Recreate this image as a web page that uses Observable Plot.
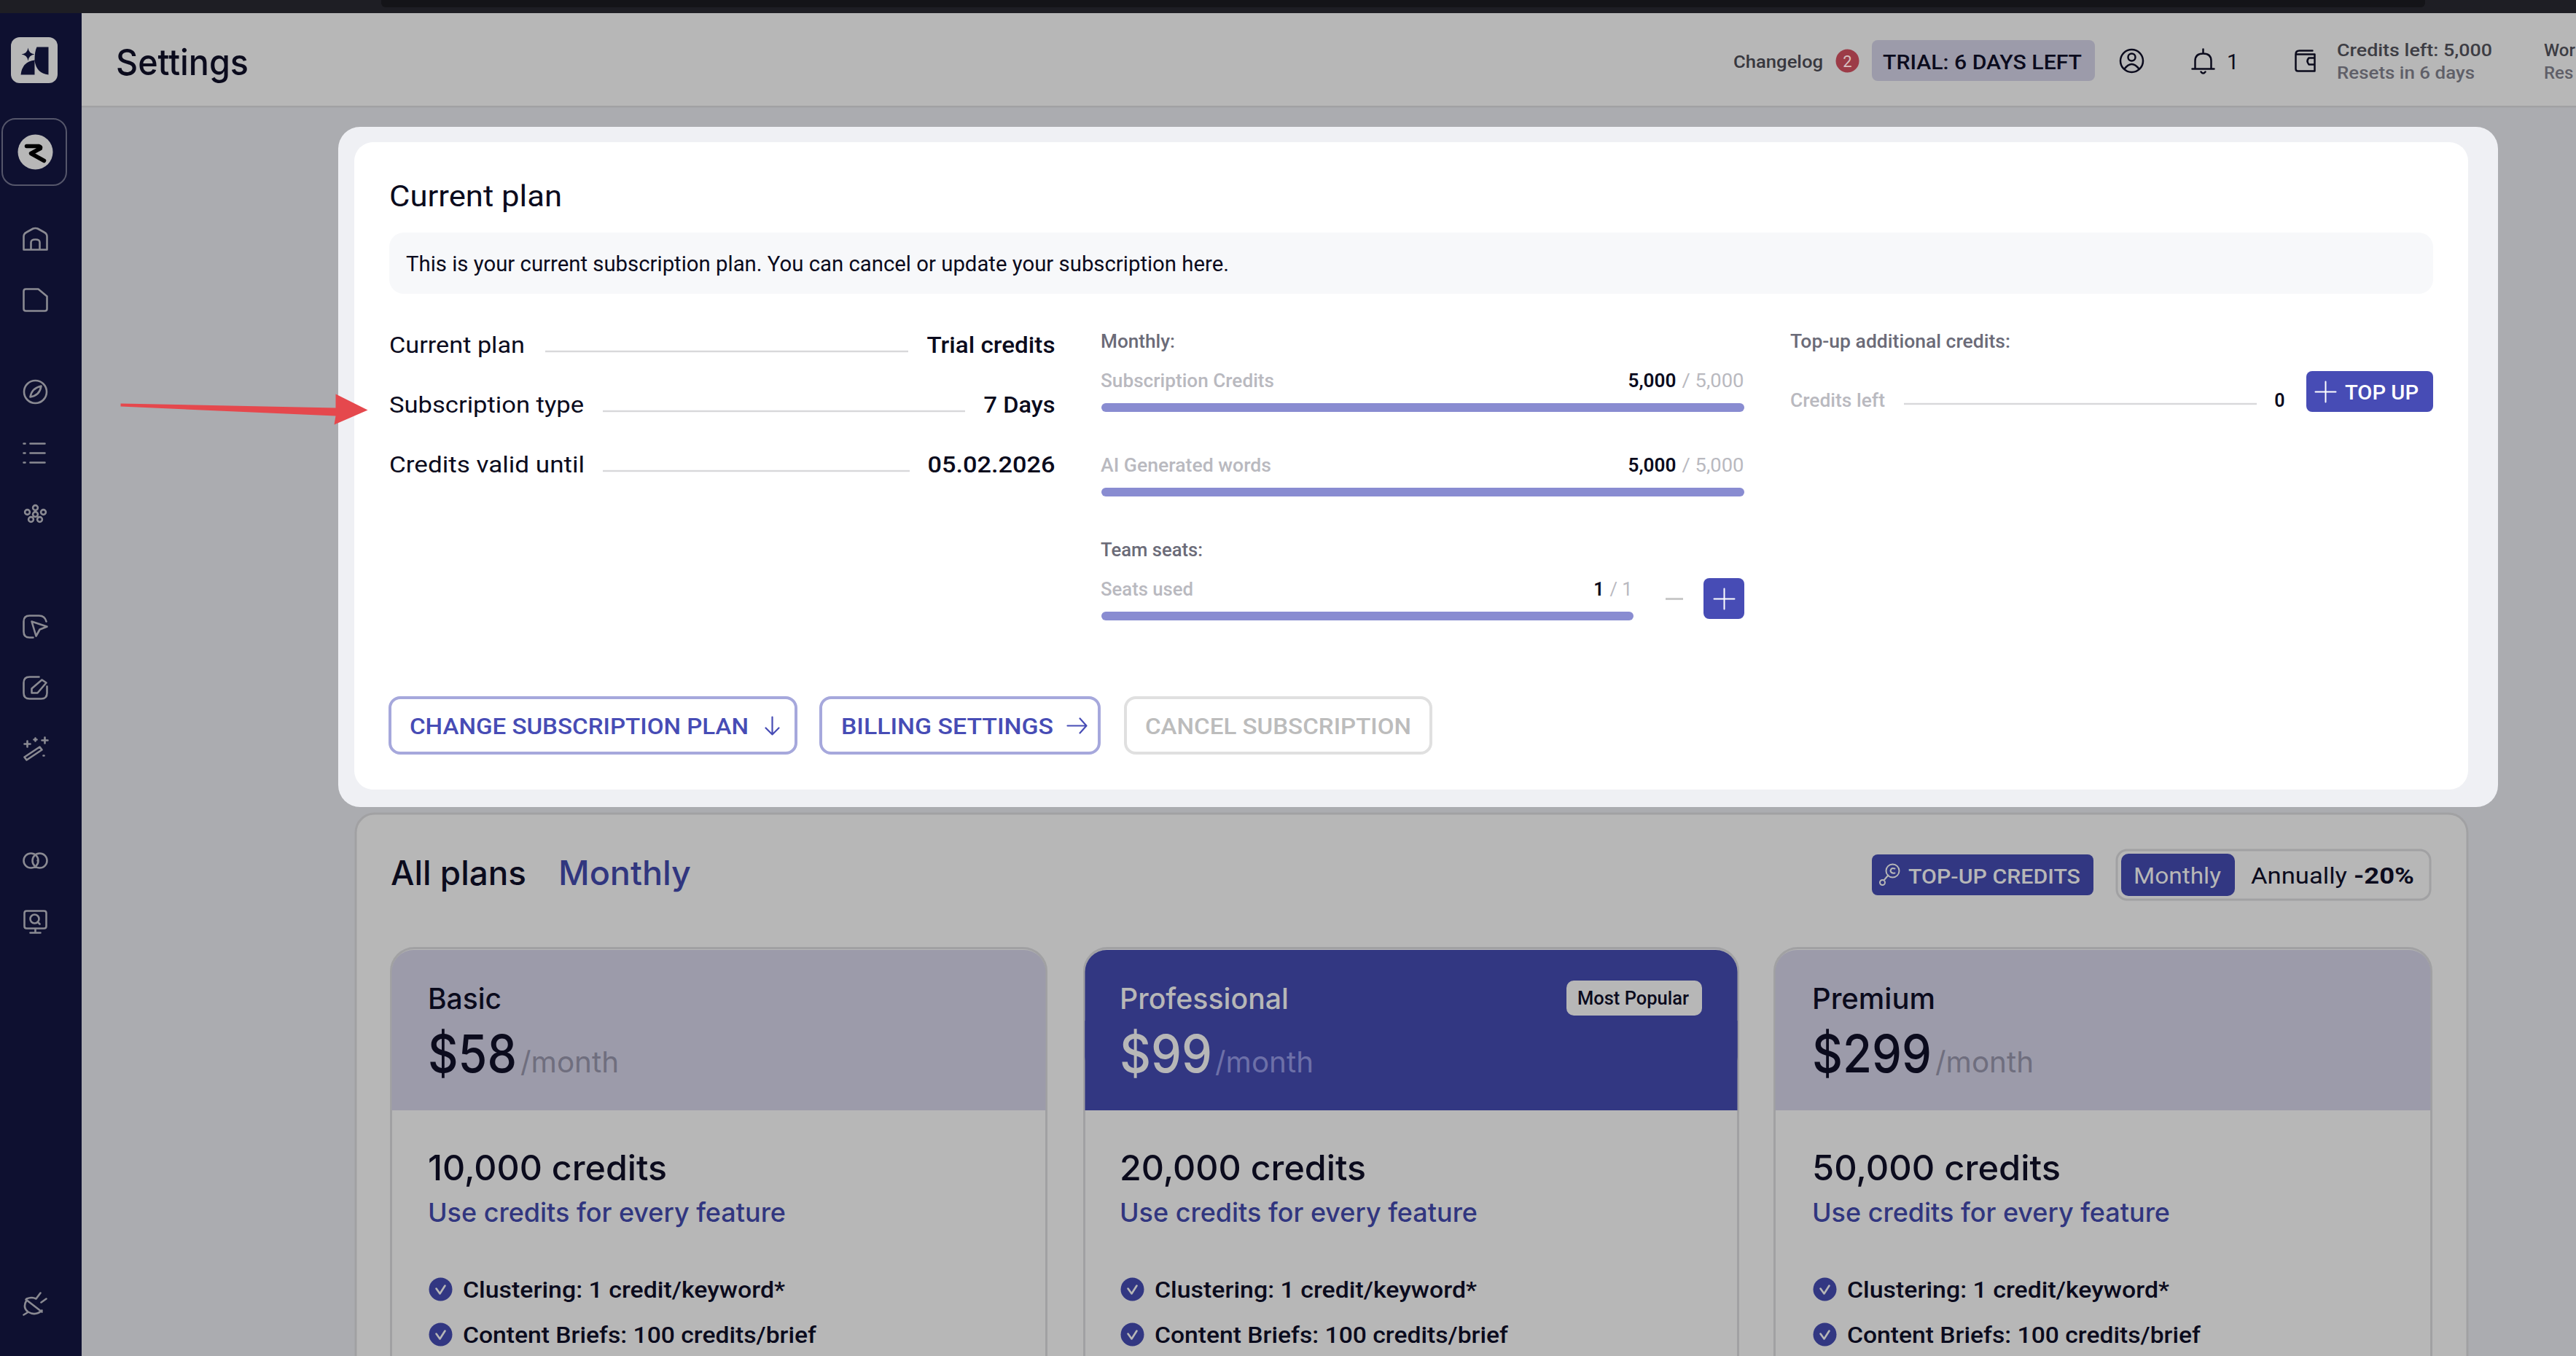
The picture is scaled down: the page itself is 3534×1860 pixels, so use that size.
<!DOCTYPE html>
<html><head><meta charset="utf-8">
<style>html,body{margin:0;padding:0;background:#abacb0;overflow:hidden}</style>
<script src="https://cdn.jsdelivr.net/npm/d3@7"></script>
<script src="https://cdn.jsdelivr.net/npm/@observablehq/plot@0.6"></script>
</head><body><div id="app"></div>
<script>
// ---- content ----
const pageTitle = "Settings";
const changelogLabel = "Changelog";
const changelogCount = 2;
const trialLabel = "TRIAL: 6 DAYS LEFT";
const notificationCount = 1;
const creditsHeader = ["Credits left: 5,000", "Resets in 6 days"];
const clippedHeader = ["Wor", "Res"];
const panelTitle = "Current plan";
const panelNote = "This is your current subscription plan. You can cancel or update your subscription here.";
const rowLabels = ["Current plan", "Subscription type", "Credits valid until"];
const rowValues = ["Trial credits", "7 Days", "05.02.2026"];
const sectionLabels = ["Monthly:", "Team seats:", "Top-up additional credits:"];
const usageLabels = ["Subscription Credits", "AI Generated words", "Seats used"];
const usageUsed = [5000, 5000, 1];
const usageTotal = [5000, 5000, 1];
const creditsLeftLabel = "Credits left";
const creditsLeftValue = 0;
const topUpLabel = "TOP UP";
const actionLabels = ["CHANGE SUBSCRIPTION PLAN", "BILLING SETTINGS", "CANCEL SUBSCRIPTION"];
const plansHeading = ["All plans", "Monthly"];
const topUpCreditsLabel = "TOP-UP CREDITS";
const billingLabels = ["Monthly", "Annually", "-20%"];
const planNames = ["Basic", "Professional", "Premium"];
const planPrices = [58, 99, 299];
const planCredits = [10000, 20000, 50000];
const planUnit = "/month";
const planNote = "Use credits for every feature";
const popularLabel = "Most Popular";
const featureLines = ["Clustering: 1 credit/keyword*", "Content Briefs: 100 credits/brief"];

// ---- palette and fonts ----
const INK = "#0b0b1d", NAVY = "#323782", INDIGO = "#474cb5", PAGE = "#b7b7b7", LINE = "#d8d8da", EDGE = "#a1a1a3";
const BODY = "Roboto, sans-serif", HEAD = "Inter, sans-serif";

// ---- mark helpers: every position goes through Plot's x and y scales ----
const box = (x1, y1, x2, y2, o = {}) => Plot.rect([{x1, y1, x2, y2}], {x1: "x1", y1: "y1", x2: "x2", y2: "y2",
  fill: o.fill ?? "none", stroke: o.stroke ?? "none", strokeWidth: o.sw ?? 1, rx: o.r ?? 0, ry: o.r ?? 0});
const fit = (w) => w == null ? undefined : (i, s, v, d, c, next) => {
  const g = next(i, s, v, d, c);
  d3.select(g).selectAll("text").attr("textLength", w).attr("lengthAdjust", "spacingAndGlyphs");
  return g;
};
const label = (s, x, y, o = {}) => Plot.text([{s, x: (o.anchor ?? "start") === "start" ? x - 1.5 : x, y}], {x: "x", y: "y", text: "s", lineAnchor: "bottom",
  textAnchor: o.anchor ?? "start", fontFamily: o.font ?? BODY, fontSize: o.size ?? 25, fontWeight: o.weight ?? 400,
  fill: o.fill ?? INK, render: fit(o.w)});
const rule = (x1, x2, y) => box(x1, y - 1.2, x2, y + 1.2, {fill: LINE});
const icon = (draw, x, y, o = {}) => Plot.dot([{x, y}], {x: "x", y: "y", r: 1, symbol: {draw},
  fill: o.fill ?? "none", stroke: o.stroke ?? "none", strokeWidth: o.sw ?? 2.5, strokeLinecap: "round", strokeLinejoin: "round"});
const ring = (c, x, y, r) => { c.moveTo(x + r, y); c.arc(x, y, r, 0, 2 * Math.PI); };

// ---- icon shapes (local drawing around the icon's centre) ----
const glyphs = {
  home(c){c.moveTo(-16,14);c.lineTo(-16,-4);c.quadraticCurveTo(-16,-8,-12,-10);c.lineTo(-3,-15);c.quadraticCurveTo(0,-16,3,-15);c.lineTo(12,-10);c.quadraticCurveTo(16,-8,16,-4);c.lineTo(16,14);c.closePath();c.moveTo(-6,14);c.lineTo(-6,4);c.quadraticCurveTo(-6,0,0,0);c.quadraticCurveTo(6,0,6,4);c.lineTo(6,14);},
  doc(c){c.moveTo(-13,-15);c.lineTo(4,-15);c.lineTo(16,-5);c.lineTo(16,12);c.quadraticCurveTo(16,15,13,15);c.lineTo(-13,15);c.quadraticCurveTo(-16,15,-16,12);c.lineTo(-16,-12);c.quadraticCurveTo(-16,-15,-13,-15);c.closePath();},
  compass(c){ring(c,0,0,15.5);c.moveTo(-7,7);c.quadraticCurveTo(-5,-5,8,-8);c.quadraticCurveTo(6,5,-7,7);c.closePath();},
  list(c){for(const y of [-13,0,13]){c.moveTo(-16,y);c.lineTo(-14,y);c.moveTo(-7,y);c.lineTo(13,y);}},
  cluster(c){for(const [x,y] of [[0,-9],[-11,-3],[11,-3],[0,0],[-6,7],[6,7]])ring(c,x,y,3.4);},
  cursor(c){c.moveTo(15,-7);c.quadraticCurveTo(13,-15,5,-15);c.lineTo(-8,-15);c.quadraticCurveTo(-16,-15,-16,-7);c.lineTo(-16,7);c.quadraticCurveTo(-16,15,-8,15);c.lineTo(-3,15);c.moveTo(-5,-7);c.lineTo(16,0);c.lineTo(6,4);c.lineTo(1,13);c.closePath();},
  edit(c){c.moveTo(5,-15);c.lineTo(-8,-15);c.quadraticCurveTo(-16,-15,-16,-7);c.lineTo(-16,7);c.quadraticCurveTo(-16,15,-8,15);c.lineTo(8,15);c.quadraticCurveTo(16,15,16,7);c.lineTo(16,-2);c.moveTo(-5,7);c.lineTo(-5,1);c.lineTo(9,-11);c.lineTo(15,-7);c.lineTo(3,7);c.closePath();},
  wand(c){c.moveTo(-15,11);c.lineTo(6,-3);c.lineTo(9,1);c.lineTo(-12,15);c.closePath();for(const [x,y,r] of [[-11,-7,4],[13,-12,4],[0,-13,2]]){c.moveTo(x-r,y);c.lineTo(x+r,y);c.moveTo(x,y-r);c.lineTo(x,y+r);}c.moveTo(11,9);c.lineTo(12,9);},
  links(c){ring(c,-6,0,10);ring(c,6,0,10);c.moveTo(3,0);c.lineTo(3.5,0);},
  monitor(c){c.moveTo(-12,-15);c.lineTo(12,-15);c.quadraticCurveTo(15,-15,15,-12);c.lineTo(15,6);c.quadraticCurveTo(15,9,12,9);c.lineTo(-12,9);c.quadraticCurveTo(-15,9,-15,6);c.lineTo(-15,-12);c.quadraticCurveTo(-15,-15,-12,-15);c.closePath();ring(c,-1,-4,6);c.moveTo(3,0);c.lineTo(6,3);c.moveTo(0,9);c.lineTo(0,14);c.moveTo(-7,15);c.lineTo(7,15);},
  plug(c){c.moveTo(-12,-5);c.quadraticCurveTo(-18,5,-10,11);c.quadraticCurveTo(0,17,9,9);c.moveTo(-12,-7);c.quadraticCurveTo(-5,-10,1,-7);c.moveTo(-13,-6);c.lineTo(9,11);c.moveTo(1,-7);c.lineTo(7,-15);c.moveTo(8,-2);c.lineTo(15,-7);c.moveTo(-11,12);c.lineTo(-16,15);},
  star(c){c.moveTo(0,-9);c.quadraticCurveTo(1,-1,9,0);c.quadraticCurveTo(1,1,0,9);c.quadraticCurveTo(-1,1,-9,0);c.quadraticCurveTo(-1,-1,0,-9);c.closePath();},
  petals(c){c.moveTo(3,-18);c.lineTo(19,-18);c.lineTo(19,0);c.lineTo(0,0);c.quadraticCurveTo(0,-12,3,-18);c.closePath();c.moveTo(0,0);c.lineTo(0,20);c.lineTo(-19,20);c.quadraticCurveTo(-17,2,0,0);c.closePath();c.moveTo(0,0);c.lineTo(19,0);c.lineTo(19,20);c.quadraticCurveTo(2,18,0,0);c.closePath();},
  brandR(c){c.moveTo(-12,-8);c.lineTo(5,-8);c.quadraticCurveTo(8,-7,7,-5);c.lineTo(-6,2);c.lineTo(12,12);},
  profile(c){ring(c,0,0,15.5);ring(c,0,-5,5);c.moveTo(-10,11);c.quadraticCurveTo(0,-2,10,11);},
  bell(c){c.moveTo(-11,8);c.lineTo(-11,-2);c.quadraticCurveTo(-11,-12,0,-12);c.quadraticCurveTo(11,-12,11,-2);c.lineTo(11,8);c.moveTo(-15,9);c.lineTo(15,9);c.moveTo(0,-18);c.lineTo(0,-12);c.moveTo(-3,13);c.quadraticCurveTo(0,17,3,13);},
  wallet(c){c.moveTo(-13,-9);c.lineTo(-13,11);c.quadraticCurveTo(-13,14,-10,14);c.lineTo(13,14);c.lineTo(13,-9);c.lineTo(-13,-9);c.moveTo(-13,-9);c.quadraticCurveTo(-13,-14,-8,-14);c.lineTo(10,-14);c.moveTo(13,-4);c.lineTo(5,-4);c.quadraticCurveTo(1,0,5,5);c.lineTo(13,5);},
  check(c){c.moveTo(-6,-1);c.lineTo(-1,6);c.lineTo(6,-5);},
  plus(c){c.moveTo(-14,0);c.lineTo(14,0);c.moveTo(0,-14);c.lineTo(0,14);},
  down(c){c.moveTo(0,-12);c.lineTo(0,12);c.moveTo(-9,3);c.lineTo(0,12);c.lineTo(9,3);},
  right(c){c.moveTo(-13,0);c.lineTo(13,0);c.moveTo(4,-10);c.lineTo(13,0);c.lineTo(4,10);},
  key(c){ring(c,5,-6,9);c.moveTo(8,-9);c.quadraticCurveTo(3,-11,2,-6);c.quadraticCurveTo(3,-2,8,-3);c.moveTo(-1,0);c.lineTo(-7,7);ring(c,-9,10,3.5);},
  redArrow(c){c.moveTo(-339,-9);c.lineTo(-44,-3);c.lineTo(-44,-22);c.lineTo(0,0);c.lineTo(-46,20);c.lineTo(-44,8);c.lineTo(-339,-5);c.closePath();}
};

// ---- marks ----
const marks = [];
const add = (...m) => marks.push(...m);

// page frame
add(box(0, 0, 3534, 18, {fill: "#1e1e24"}), box(523, -8, 3327, 10, {fill: "#141418", r: 6}));
add(box(112, 18, 3534, 145, {fill: PAGE}), box(112, 145, 3534, 147.5, {fill: EDGE}));
add(box(0, 18, 112, 1860, {fill: "#0e1030"}));

// sidebar
add(box(15, 51, 79, 114, {fill: PAGE, r: 12}), icon(glyphs.star, 38, 74, {fill: "#0e1030"}), icon(glyphs.petals, 47, 82, {fill: "#0e1030"}));
add(box(3, 163, 91, 254, {stroke: "#55566a", sw: 2, r: 18}), icon((c) => ring(c, 0, 0, 24), 48, 208, {fill: PAGE}), icon(glyphs.brandR, 48, 208, {stroke: "#000", sw: 5.5}));
for (const [name, y] of [["home", 328], ["doc", 411], ["compass", 537], ["list", 621], ["cluster", 705], ["cursor", 859], ["edit", 943], ["wand", 1027], ["links", 1180], ["monitor", 1264], ["plug", 1788], ["links", 1871]])
  add(icon(glyphs[name], 48, y, {stroke: "#8a8a92", sw: 2.6}));

// header
add(label(pageTitle, 160, 102, {font: HEAD, size: 50, weight: 500, w: 182}));
add(label(changelogLabel, 2379, 92, {size: 24, weight: 500, fill: "#38383f", w: 123}));
add(icon((c) => ring(c, 0, 0, 16), 2534, 83, {fill: "#9c3b47"}), label(String(changelogCount), 2534, 91, {size: 22, anchor: "middle", fill: "#d8c0c0"}));
add(box(2568, 55, 2874, 111, {fill: "#9c9baa", r: 8}), label(trialLabel, 2584, 94, {size: 28, weight: 500, w: 273}));
add(icon(glyphs.profile, 2924, 83, {stroke: INK}), icon(glyphs.bell, 3022, 85, {stroke: INK}), label(String(notificationCount), 3056, 94, {size: 29, fill: INK}));
add(icon(glyphs.wallet, 3162, 83, {stroke: INK}));
add(label(creditsHeader[0], 3207, 76, {size: 24, weight: 500, fill: "#3d3d44", w: 213}), label(creditsHeader[1], 3207, 107, {size: 24, weight: 500, fill: "#5f5f68", w: 189}));
add(label(clippedHeader[0], 3491, 76, {size: 24, weight: 500, fill: "#3d3d44"}), label(clippedHeader[1], 3491, 107, {size: 24, weight: 500, fill: "#5f5f68"}));

// lower panel sits behind the current-plan panel
add(box(488, 1116, 3385, 1960, {fill: PAGE, stroke: EDGE, sw: 3, r: 26}));

// current-plan panel
add(box(464, 174, 3427, 1107, {fill: "#eff0f4", r: 30}), box(486, 195, 3386, 1083, {fill: "#fff", r: 26}));
add(label(panelTitle, 535, 282, {size: 40, weight: 400, w: 237}));
add(box(534, 319, 3338, 403, {fill: "#f7f8fa", r: 20}), label(panelNote, 558, 371, {size: 30, w: 1129}));

const rowY = [483, 565, 647], rowW = [186, 267, 268], rowRule = [[748, 1246], [827, 1324], [827, 1248]], rowValW = [176, 98, 175];
rowLabels.forEach((s, i) => add(
  label(s, 535, rowY[i], {size: 32, w: rowW[i]}),
  rule(rowRule[i][0], rowRule[i][1], rowY[i] - 1),
  label(rowValues[i], 1447, rowY[i], {size: 32, weight: 500, anchor: "end", w: rowValW[i]})));

// usage meters: filled length follows used / total
const fmt = d3.format(",");
const MUTED = "#b9b9bf", SECTION = "#6b6b78";
add(label(sectionLabels[0], 1511, 476, {size: 25, weight: 500, fill: SECTION, w: 102}));
add(label(sectionLabels[1], 1511, 762, {size: 25, weight: 500, fill: SECTION, w: 140}));
add(label(sectionLabels[2], 2457, 476, {size: 25, weight: 500, fill: SECTION, w: 302}));
const meterY = [553, 669, 839], meterEnd = [2393, 2393, 2241], usageW = [238, 234, 127], labelY = [530, 646, 816];
usageLabels.forEach((s, i) => {
  const end = meterEnd[i], usedS = fmt(usageUsed[i]);
  add(label(s, 1511, labelY[i], {size: 25, weight: 500, fill: MUTED, w: usageW[i]}));
  add(box(1511, meterY[i], 1511 + (end - 1511) * usageUsed[i] / usageTotal[i], meterY[i] + 12, {fill: "#898cd1", r: 6}));
  if (i < 2) add(label(usedS, 2299, labelY[i], {size: 25, weight: 600, anchor: "end", w: 66}), label("/ " + fmt(usageTotal[i]), 2392, labelY[i], {size: 25, anchor: "end", fill: MUTED, w: 85}));
  else add(label(usedS, 2200, labelY[i], {size: 25, weight: 600, anchor: "end"}), label("/ " + usageTotal[i], 2239, labelY[i], {size: 25, anchor: "end", fill: MUTED, w: 31}));
});
add(box(2285, 820, 2309, 823, {fill: "#c9c9c9"}), box(2337, 793, 2393, 849, {fill: INDIGO, r: 8}), icon(glyphs.plus, 2365, 821, {stroke: "#fff", sw: 2}));

// top-up block
add(label(creditsLeftLabel, 2457, 557, {size: 25, weight: 500, fill: MUTED, w: 130}), rule(2612, 3096, 554));
add(label(String(creditsLeftValue), 3134, 557, {size: 25, weight: 600, anchor: "end"}));
add(box(3164, 509, 3338, 565, {fill: INDIGO, r: 8}), icon(glyphs.plus, 3190, 537, {stroke: "#fff", sw: 2}), label(topUpLabel, 3218, 547, {size: 28, weight: 500, fill: "#fff", w: 101}));

// action buttons
const actionBox = [[533, 1094], [1124, 1510], [1542, 1965]], actionText = [[563, 465], [1155, 291], [1572, 365]];
const actionStroke = ["#a6a8dc", "#a6a8dc", "#e0e0e0"], actionFill = [INDIGO, INDIGO, "#bcbcbc"];
actionLabels.forEach((s, i) => add(
  box(actionBox[i][0] + 2, 957, actionBox[i][1] - 2, 1033, {fill: "#fff", stroke: actionStroke[i], sw: 4, r: 14}),
  label(s, actionText[i][0], 1006, {size: 32, weight: 500, fill: actionFill[i], w: actionText[i][1]})));
add(icon(glyphs.down, 1059, 995, {stroke: INDIGO, sw: 2.2}), icon(glyphs.right, 1477, 995, {stroke: INDIGO, sw: 2.2}));

// pointer arrow
add(icon(glyphs.redArrow, 504, 562, {fill: "#e5484d"}));

// plans heading and controls
add(label(plansHeading[0], 537, 1213, {font: HEAD, size: 46, weight: 500, w: 186}), label(plansHeading[1], 767, 1213, {font: HEAD, size: 46, weight: 500, fill: "#31367f", w: 182}));
add(box(2568, 1172, 2872, 1228, {fill: NAVY, r: 8}), icon(glyphs.key, 2591, 1200, {stroke: PAGE, sw: 2}), label(topUpCreditsLabel, 2619, 1211, {size: 28, weight: 500, fill: PAGE, w: 236}));
add(box(2904, 1166, 3334, 1234, {stroke: EDGE, sw: 3, r: 14}), box(2910, 1171, 3066, 1229, {fill: NAVY, r: 10}));
add(label(billingLabels[0], 2928, 1211, {size: 32, fill: PAGE, w: 120}), label(billingLabels[1], 3089, 1211, {size: 32, w: 132}), label(billingLabels[2], 3230, 1211, {size: 32, weight: 700, w: 83}));

// plan cards
const cardBox = [[535, 1437], [1486, 2386], [2433, 3337]], cardText = [588, 1537, 2487];
const nameW = [101, 232, 169], priceW = [122, 127, 164], unitX = [715, 1668, 2656], creditW = [328, 338, 341];
planNames.forEach((name, i) => {
  const [a, b] = cardBox[i], x = cardText[i], pro = i === 1;
  const head = pro ? NAVY : "#9c9baa", ink = pro ? PAGE : INK;
  add(box(a + 1.5, 1300.5, b - 1.5, 1960, {fill: PAGE, stroke: EDGE, sw: 3, r: 32}));
  add(box(a + 2.5, 1303, b - 2.5, 1480, {fill: head, r: 30}), box(a + 2.5, 1400, b - 2.5, 1523, {fill: head}));
  add(label(name, x, 1383, {font: HEAD, size: 39, weight: 500, fill: ink, w: nameW[i]}));
  add(label("$" + planPrices[i], x, 1470, {font: HEAD, size: 72, weight: 500, fill: ink, w: priceW[i]}));
  add(label(planUnit, unitX[i], 1470, {font: HEAD, size: 40, fill: pro ? "#6d70a8" : "#6f6e7e", w: 135}));
  add(label(fmt(planCredits[i]) + " credits", x, 1618, {font: HEAD, size: 48, weight: 500, w: creditW[i]}));
  add(label(planNote, x, 1675, {font: HEAD, size: 36, weight: 500, fill: "#31367f", w: 491}));
  featureLines.forEach((line, k) => add(
    icon((c) => ring(c, 0, 0, 16), x + 16, [1768, 1830][k], {fill: NAVY}),
    icon(glyphs.check, x + 16, [1768, 1830][k], {stroke: PAGE, sw: 2.6}),
    label(line, x + 48, [1779, 1841][k], {size: 32, weight: 500, w: [442, 485][k]})));
});
add(box(2149, 1345, 2335, 1393, {fill: PAGE, r: 10}), label(popularLabel, 2165, 1377, {size: 25, weight: 500, w: 153}));

const chart = Plot.plot({
  width: 3534, height: 1860, margin: 0,
  x: {domain: [0, 3534], range: [0, 3534], axis: null},
  y: {domain: [0, 1860], range: [0, 1860], axis: null},
  style: {background: "#abacb0"},
  marks
});
document.getElementById("app").append(chart);
</script></body></html>
